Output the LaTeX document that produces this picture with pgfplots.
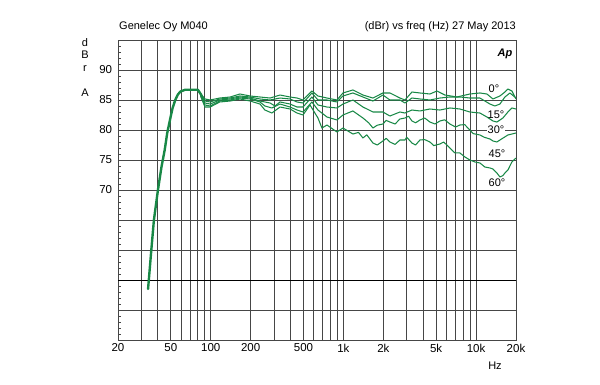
\documentclass[border=0pt]{standalone}
\usepackage{fontspec}
\setmainfont{Liberation Sans}
\usepackage{pgfplots}
\pgfplotsset{compat=1.18}
\definecolor{curve}{RGB}{24,136,70}
\definecolor{gridc}{RGB}{70,70,70}

\pgfplotstableread{
f db
33.7 53.5
35.5 59.5
37.3 65.0
40 70.0
42.5 73.8
45 76.7
47 79.5
49.3 81.7
51.5 83.6
54 85.0
56.5 85.9
59 86.4
64 86.7
72 86.7
80 86.7
84 86.0
88 85.1
}\bass

\pgfplotstableread{
f db
84 86.0
90.5 85.17
99 85.0
117 85.33
140 85.5
166 86.0
198 85.67
235 85.5
280 85.33
333 85.83
396 85.5
447 85.33
496 85.0
579 86.5
643 85.67
752 85.33
894 85.0
992 86.17
1180 86.67
1404 85.83
1670 85.33
1986 86.17
2242 86.17
2668 85.33
2910 85.0
3286 86.33
3774 86.17
4490 86.0
5070 86.5
5824 85.83
7170 85.5
8986 86.0
10690 86.17
12070 86.0
13400 85.17
15130 85.67
16500 86.33
17380 86.83
18630 86.5
20000 85.17
}\zero

\pgfplotstableread{
f db
84 85.9
90.5 84.83
99 84.67
117 85.17
140 85.33
166 85.67
198 85.5
235 85.17
280 85.0
333 85.33
396 85.17
447 84.67
496 84.5
579 86.17
643 85.0
752 85.0
894 84.67
992 85.67
1180 86.17
1404 85.5
1670 84.83
1986 85.83
2242 85.0
2668 85.0
2910 84.5
3286 85.33
3774 85.17
4490 85.0
5340 85.33
6352 85.5
7556 85.5
8986 85.33
10690 85.33
12720 84.33
13870 84.0
15130 84.33
16500 85.5
18000 86.17
20000 85.33
}\fifteen

\pgfplotstableread{
f db
84 85.8
90.5 84.5
99 84.33
117 85.0
140 85.17
166 85.5
198 85.33
235 84.83
280 84.5
305 84.0
333 84.67
396 84.33
447 83.83
496 83.83
579 85.5
643 84.17
752 83.83
894 83.67
992 84.33
1180 85.0
1404 83.83
1670 83.0
1986 83.0
2242 82.33
2668 83.0
2910 82.83
3286 83.33
3774 83.17
4490 83.5
5340 83.33
6352 83.67
7556 83.5
8986 83.0
10690 82.83
12070 82.17
13400 81.5
14360 81.33
15940 82.0
17380 83.0
18630 83.67
20000 83.5
}\thirty

\pgfplotstableread{
f db
84 85.7
90.5 84.17
99 84.0
117 84.83
140 85.0
166 85.33
198 85.17
235 84.67
256 84.0
289 83.67
333 84.33
396 83.83
447 83.33
496 83.0
579 84.67
643 83.33
752 82.17
894 81.67
992 82.5
1180 83.17
1404 82.0
1550 81.2
1670 80.33
1800 80.8
1986 81.0
2100 81.6
2242 81.33
2450 81.0
2668 81.83
2910 82.0
3100 82.3
3286 81.5
3500 81.2
3774 81.67
4100 82.0
4490 81.33
4900 81.0
5340 81.5
5800 81.7
6352 81.0
7000 80.5
7556 80.83
8200 80.9
8986 80.0
9500 79.4
10690 79.17
11500 78.8
12720 78.5
13400 78.17
14360 78.0
15130 78.33
17380 79.17
18630 79.33
20000 79.5
}\fortyfive

\pgfplotstableread{
f db
84 85.6
90.5 83.83
99 83.83
117 84.67
140 84.83
166 85.17
198 84.83
235 84.33
256 83.33
289 82.83
333 83.83
396 83.5
447 82.83
496 82.5
560 84.17
643 82.0
689 80.33
752 80.83
894 79.67
992 80.33
1180 79.33
1300 79.6
1404 78.67
1500 79.2
1670 77.83
1800 77.5
1986 78.17
2100 78.6
2242 78.0
2450 77.6
2668 78.33
2910 78.33
3000 78.8
3286 77.83
3500 77.5
3774 78.33
4100 78.4
4490 78.0
4800 77.4
5340 77.67
5700 78.0
6352 77.0
6900 76.2
7556 76.17
8240 75.5
8986 75.0
9802 74.67
10690 74.5
11660 73.83
12720 73.67
13400 73.5
14360 72.83
15130 72.17
15940 72.4
16500 72.83
17380 73.33
18630 74.67
20000 75.33
}\sixty

\begin{document}
\fontsize{11pt}{13pt}\selectfont
\begin{tikzpicture}[x=1pt,y=1pt]
\path[use as bounding box] (-118,-45) rectangle (482,340);
\begin{axis}[
  at={(0,0)}, anchor=south west,
  scale only axis, width=398pt, height=300pt,
  xmode=log, xmin=20, xmax=20000, ymin=45, ymax=95,
  xtick={20,50,100,200,500,1000,2000,5000,10000,20000},
  xticklabels={20,50,100,200,500,1k,2k,5k,10k,20k},
  minor xtick={30,40,60,70,80,90,300,400,600,700,800,900,3000,4000,6000,7000,8000,9000},
  ytick={45,50,...,95},
  yticklabels={,,,,,70,75,80,85,90,},
  minor ytick={46,47,...,94},
  xmajorgrids, xminorgrids, ymajorgrids,
  grid style={gridc, line width=0.95pt},
  major grid style={gridc, line width=0.95pt},
  minor grid style={gridc, line width=0.95pt},
  axis line style={gridc, line width=0.95pt},
  x tick style={draw=none},
  ytick pos=left, tick align=inside,
  major tick length=0pt, minor tick length=3pt,
  minor y tick style={gridc, line width=0.6pt},
  extra y ticks={55}, extra y tick labels={},
  extra y tick style={ymajorgrids=true, major grid style={black, line width=0.95pt}},
  /pgf/number format/assume math mode=true,
  tick label style={font=\fontsize{11.5}{13}\selectfont},
  yticklabel style={xshift=-2pt},
  clip=true,
]
\addplot[curve, line width=1.05pt, line join=round] table[x=f,y=db] {\zero};
\addplot[curve, line width=1.05pt, line join=round] table[x=f,y=db] {\fifteen};
\addplot[curve, line width=1.05pt, line join=round] table[x=f,y=db] {\thirty};
\addplot[curve, line width=1.05pt, line join=round] table[x=f,y=db] {\fortyfive};
\addplot[curve, line width=1.05pt, line join=round] table[x=f,y=db] {\sixty};
\addplot[curve, line width=2.4pt, line join=round, line cap=round] table[x=f,y=db] {\bass};
\end{axis}
\node[anchor=base west, inner sep=0] at (1,310) {Genelec Oy M040};
\node[anchor=base east, inner sep=0] at (398,310) {(dBr) vs freq (Hz) 27 May 2013};
\node[anchor=base, inner sep=0] at (-33,293) {d};
\node[anchor=base, inner sep=0] at (-33,281) {B};
\node[anchor=base, inner sep=0] at (-33,268) {r};
\node[anchor=base, inner sep=0] at (-33,243) {A};
\node[anchor=base, inner sep=0] at (387,283) {\bfseries\itshape Ap};
\node[anchor=base, inner sep=0] at (377,-30) {Hz};
\node[anchor=base, inner sep=0] at (376,247) {0°};
\node[anchor=base, inner sep=0] at (378,221) {15°};
\node[anchor=base, fill=white, inner sep=1pt] at (378,206) {30°};
\node[anchor=base, inner sep=0] at (379,182) {45°};
\node[anchor=base, inner sep=0] at (379,153) {60°};
\end{tikzpicture}
\end{document}
